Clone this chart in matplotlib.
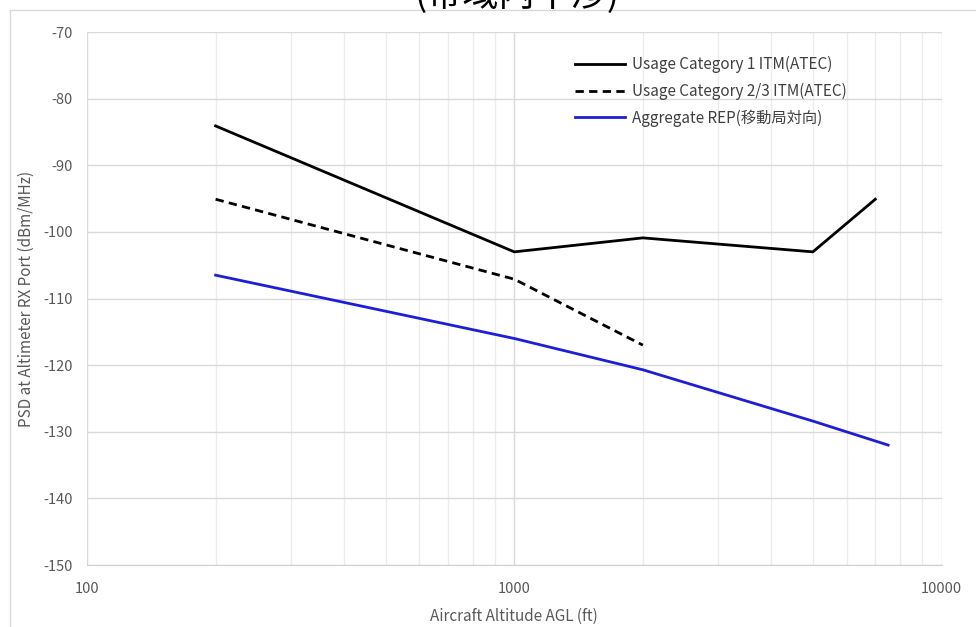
import matplotlib
matplotlib.use("Agg")
import matplotlib.pyplot as plt
from matplotlib.ticker import FixedLocator, NullFormatter
from matplotlib.lines import Line2D

plt.rcParams['font.family'] = ['Noto Sans CJK JP', 'DejaVu Sans']

title = "(帯域内干渉)"
x_label = "Aircraft Altitude AGL (ft)"
y_label = "PSD at Altimeter RX Port (dBm/MHz)"

cat1_x = [200, 1000, 2000, 5000, 7000]
cat1_y = [-84.1, -103.0, -100.9, -103.0, -95.1]
cat1_label = "Usage Category 1 ITM(ATEC)"

cat23_x = [200, 1000, 2000]
cat23_y = [-95.1, -107.1, -117.0]
cat23_label = "Usage Category 2/3 ITM(ATEC)"

rep_x = [200, 1000, 2000, 5000, 7500]
rep_y = [-106.5, -116.0, -120.7, -128.4, -132.0]
rep_label = "Aggregate REP(移動局対向)"

y_ticks = [-70, -80, -90, -100, -110, -120, -130, -140, -150]
x_ticks = [100, 1000, 10000]

W, H = 976, 627
fig = plt.figure(figsize=(W / 100, H / 100), dpi=100)
ax = fig.add_axes([87 / W, 1 - 565 / H, (941.5 - 87) / W, (565 - 32) / H])

ax.set_xscale('log')
ax.set_xlim(100, 10000)
ax.set_ylim(-150, -70)

ax.xaxis.set_major_locator(FixedLocator(x_ticks))
ax.xaxis.set_minor_locator(FixedLocator([m * d for d in (100, 1000) for m in range(2, 10)]))
ax.xaxis.set_minor_formatter(NullFormatter())
ax.set_xticklabels([str(t) for t in x_ticks])
ax.set_yticks(y_ticks)
ax.set_yticklabels([str(t) for t in y_ticks])

ax.grid(True, which='major', axis='both', color='#d9d9d9', lw=1.0)
ax.grid(True, which='minor', axis='x', color='#ececec', lw=1.0)
ax.set_axisbelow(True)
for s in ax.spines.values():
    s.set_visible(False)
ax.spines['bottom'].set_visible(True)
ax.spines['bottom'].set_color('#d0d0d0')
ax.tick_params(which='both', length=0, labelsize=10.5, labelcolor='#595959')
ax.tick_params(axis='x', pad=12)
ax.tick_params(axis='y', pad=10)

ax.plot(cat1_x, cat1_y, color='black', lw=2.0, label=cat1_label)
ax.plot(cat23_x, cat23_y, color='black', lw=2.0, dashes=(3, 1.9), label=cat23_label)
ax.plot(rep_x, rep_y, color='#1e1ed8', lw=2.0, label=rep_label)

leg = ax.legend(loc='upper left', bbox_to_anchor=((575 - 87) / 854.5, (565 - 56) / 533),
                frameon=False, borderpad=0, borderaxespad=0,
                fontsize=11, handlelength=3.3, handletextpad=0.45, labelspacing=0.62,
                labelcolor='#404040')

ax.set_xlabel(x_label, fontsize=11, color='#595959', labelpad=9)
ax.set_ylabel(y_label, fontsize=11, color='#595959', labelpad=6)

# chart border lines (cropped screenshot)
fig.add_artist(Line2D([10 / W, 1], [1 - 10 / H, 1 - 10 / H], transform=fig.transFigure,
                      color='#d9d9d9', lw=1))
fig.add_artist(Line2D([10 / W, 10 / W], [0, 1 - 10 / H], transform=fig.transFigure,
                      color='#d9d9d9', lw=1))

fig.text(517 / W, 1 + 5 / H, title, ha='center', va='center', fontsize=26, color='black')

fig.savefig('out.png', dpi=100)
